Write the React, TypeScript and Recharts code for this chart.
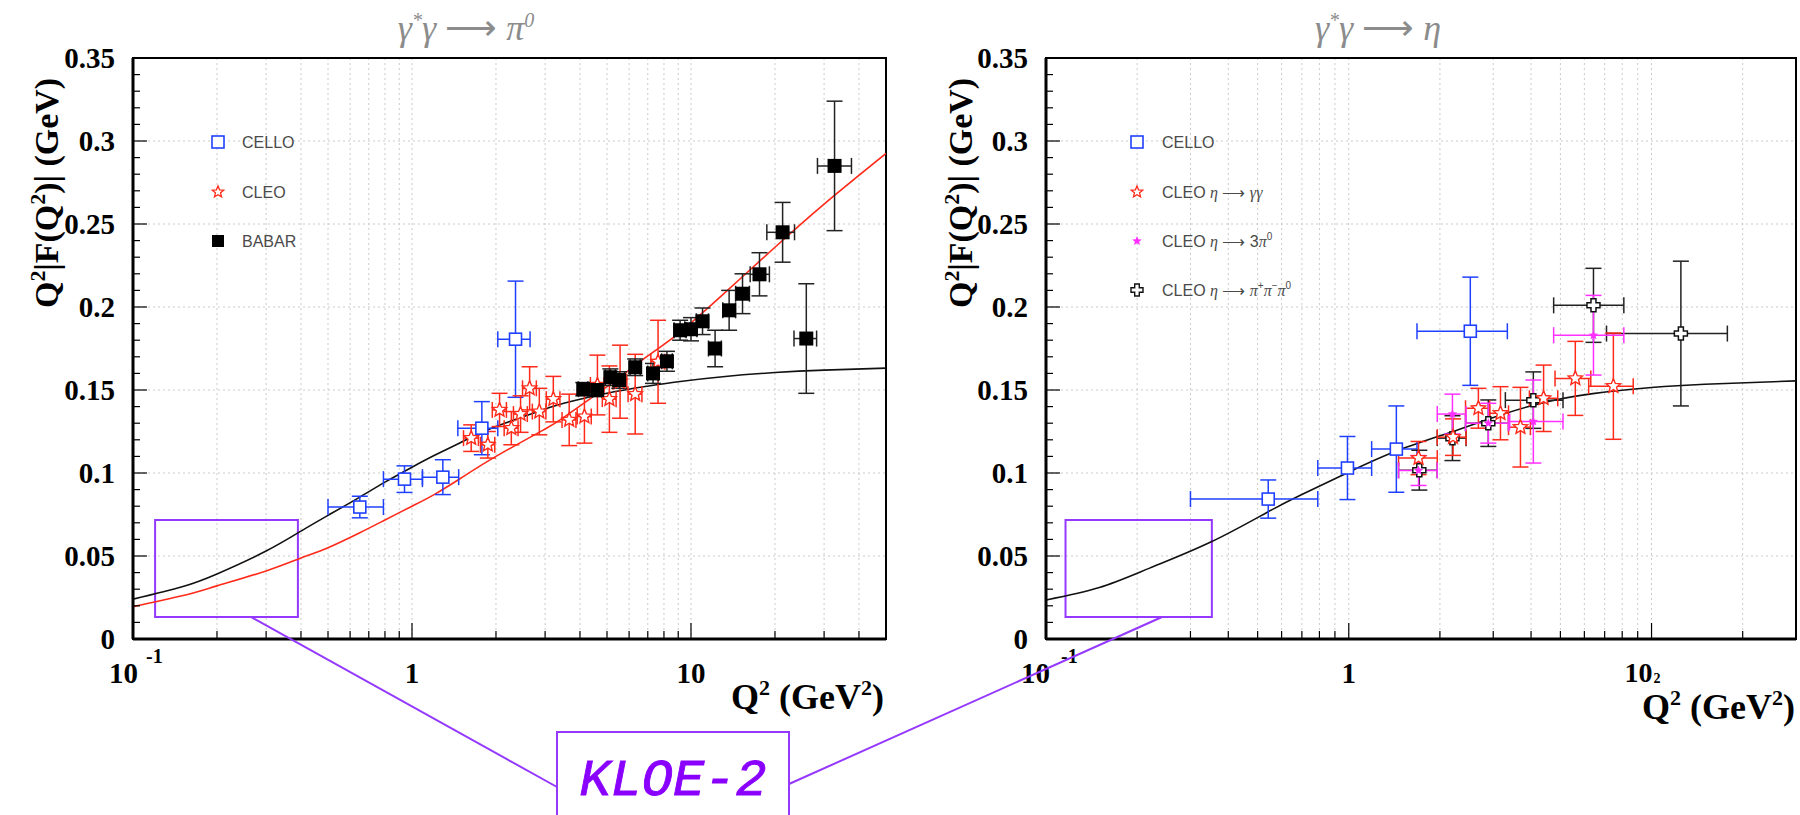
import React from "react";
import {
  ComposedChart,
  Line,
  Scatter,
  ErrorBar,
  XAxis,
  YAxis,
  CartesianGrid,
  ReferenceArea,
} from "recharts";

// ---------- gamma* gamma -> pi0 ----------
const pionCelloQ2 = [0.65, 0.94, 1.29, 1.78, 2.35];
const pionCelloF = [0.0795, 0.0963, 0.0975, 0.127, 0.1806];
const pionCelloErr = [0.0065, 0.008, 0.0105, 0.016, 0.035];
const pionCelloLo = [0.5, 0.79, 1.09, 1.46, 2.03];
const pionCelloHi = [0.79, 1.09, 1.47, 2.03, 2.65];

const pionCleoQ2 = [1.63, 1.87, 2.06, 2.27, 2.45, 2.64, 2.86, 3.21, 3.66, 4.15, 4.62, 5.1, 5.57, 6.31, 7.62];
const pionCleoF = [0.121, 0.117, 0.138, 0.127, 0.1355, 0.151, 0.137, 0.1445, 0.132, 0.134, 0.153, 0.1445, 0.155, 0.1475, 0.167];
const pionCleoErr = [0.008, 0.008, 0.01, 0.01, 0.011, 0.013, 0.014, 0.0137, 0.0155, 0.016, 0.018, 0.02, 0.022, 0.024, 0.025];
const pionCleoLo = [1.53, 1.76, 1.94, 2.14, 2.31, 2.49, 2.7, 3.03, 3.45, 3.91, 4.36, 4.81, 5.25, 5.95, 7.18];
const pionCleoHi = [1.73, 1.98, 2.18, 2.4, 2.59, 2.79, 3.02, 3.39, 3.87, 4.39, 4.88, 5.39, 5.89, 6.67, 8.06];

const babarQ2 = [4.11, 4.61, 5.14, 5.53, 6.31, 7.31, 8.2, 9.14, 10.0, 11.0, 12.2, 13.7, 15.3, 17.6, 21.3, 25.9, 32.7];
const babarF = [0.1505, 0.15, 0.1577, 0.156, 0.1637, 0.16, 0.1673, 0.186, 0.1866, 0.1914, 0.175, 0.198, 0.208, 0.2197, 0.245, 0.181, 0.285];
const babarErr = [0.004, 0.004, 0.005, 0.005, 0.005, 0.006, 0.006, 0.006, 0.007, 0.008, 0.011, 0.012, 0.012, 0.013, 0.018, 0.033, 0.039];
const babarLo = [3.95, 4.43, 4.93, 5.3, 6.05, 7.0, 7.85, 8.7, 9.5, 10.45, 11.55, 13.0, 14.45, 16.3, 18.7, 23.4, 28.4];
const babarHi = [4.27, 4.79, 5.36, 5.77, 6.58, 7.63, 8.57, 9.6, 10.5, 11.55, 12.85, 14.45, 16.2, 19.1, 23.5, 28.2, 37.6];

const pionCurveQ2 = [0.1, 0.15, 0.2, 0.3, 0.4, 0.5, 0.65, 0.8, 1, 1.2, 1.5, 2, 3, 3.5, 5, 7, 9, 13, 20, 30, 50];
const pionBlackCurve = [0.024, 0.0315, 0.0392, 0.053, 0.065, 0.0745, 0.0855, 0.0945, 0.1035, 0.1105, 0.1185, 0.128, 0.1385, 0.142, 0.148, 0.1523, 0.155, 0.158, 0.1605, 0.162, 0.1632];
const pionRedCurve = [0.0195, 0.026, 0.032, 0.041, 0.0488, 0.055, 0.064, 0.0717, 0.08, 0.087, 0.097, 0.11, 0.1265, 0.1335, 0.152, 0.1705, 0.184, 0.2075, 0.236, 0.262, 0.2925];

// ---------- gamma* gamma -> eta ----------
const etaCelloQ2 = [0.542, 0.99, 1.436, 2.52];
const etaCelloF = [0.0843, 0.103, 0.1144, 0.1854];
const etaCelloErr = [0.0115, 0.019, 0.026, 0.0326];
const etaCelloLo = [0.3, 0.79, 1.19, 1.68];
const etaCelloHi = [0.79, 1.19, 1.68, 3.34];

const etaGGQ2 = [1.7, 2.21, 2.68, 3.17, 3.69, 4.4, 5.6, 7.48];
const etaGGF = [0.109, 0.1216, 0.139, 0.136, 0.1276, 0.145, 0.157, 0.1523];
const etaGGErr = [0.01, 0.011, 0.012, 0.016, 0.024, 0.02, 0.0223, 0.032];
const etaGGLo = [1.46, 1.96, 2.43, 2.92, 3.37, 3.95, 4.8, 6.2];
const etaGGHi = [1.96, 2.44, 2.92, 3.37, 3.98, 4.9, 6.3, 8.7];

const eta3PiQ2 = [1.7, 2.2, 2.89, 4.07, 6.43];
const eta3PiF = [0.1015, 0.1355, 0.13, 0.131, 0.183];
const eta3PiErr = [0.009, 0.012, 0.012, 0.025, 0.024];
const eta3PiLo = [1.46, 1.96, 2.43, 3.4, 4.75];
const eta3PiHi = [1.96, 2.44, 3.37, 5.1, 8.1];

const etaPPPQ2 = [1.71, 2.2, 2.89, 4.07, 6.43, 12.5];
const etaPPPF = [0.1017, 0.121, 0.13, 0.1439, 0.201, 0.184];
const etaPPPErr = [0.012, 0.0135, 0.014, 0.017, 0.0223, 0.0436];
const etaPPPLo = [1.46, 1.96, 2.43, 3.29, 4.75, 7.1];
const etaPPPHi = [1.96, 2.44, 3.37, 5.1, 8.1, 17.8];

const etaCurveQ2 = [0.1, 0.15, 0.22, 0.35, 0.54, 0.7, 1.0, 1.45, 2.17, 2.9, 4.2, 6.4, 10, 15, 30];
const etaCurveF = [0.0235, 0.031, 0.0427, 0.0584, 0.0765, 0.087, 0.1005, 0.1135, 0.1245, 0.1325, 0.1415, 0.1478, 0.1515, 0.1535, 0.1555];

// axes
const pionXTicks = [0.1, 0.2, 0.3, 0.4, 0.5, 0.6, 0.7, 0.8, 0.9, 1, 2, 3, 4, 5, 6, 7, 8, 9, 10, 20, 30, 40, 50];
const etaXTicks = [0.1, 0.2, 0.3, 0.4, 0.5, 0.6, 0.7, 0.8, 0.9, 1, 2, 3, 4, 5, 6, 7, 8, 9, 10, 20, 30];
const yMajorTicks = [0, 0.05, 0.1, 0.15, 0.2, 0.25, 0.3, 0.35];
const yAllTicks = Array.from({ length: 36 }, (_, i) => +(i * 0.01).toFixed(2));

// KLOE-2 reach box
const pionKloeQ2 = [0.12, 0.39];
const etaKloeQ2 = [0.116, 0.353];
const kloeF = [0.0133, 0.0717];

const BLUE = "#2040ff";
const RED = "#ff2a1a";
const MAGENTA = "#ff30ff";
const PURPLE = "#9438ff";
const SERIF = "'Liberation Serif', 'Times New Roman', serif";

type Pt = { x: number; y: number; ey: number; ex: [number, number] };

function points(q2: number[], f: number[], err: number[], lo: number[], hi: number[]): Pt[] {
  return q2.map((x, i) => ({ x, y: f[i], ey: err[i], ex: [x - lo[i], hi[i] - x] }));
}

function curve(q2: number[], f: number[]) {
  return q2.map((x, i) => ({ x, y: f[i] }));
}

function starPath(cx: number, cy: number, r: number) {
  let d = "";
  for (let i = 0; i < 10; i++) {
    const rad = i % 2 === 0 ? r : r * 0.45;
    const a = -Math.PI / 2 + (i * Math.PI) / 5;
    d += (i === 0 ? "M" : "L") + (cx + rad * Math.cos(a)).toFixed(2) + "," + (cy + rad * Math.sin(a)).toFixed(2);
  }
  return d + "Z";
}

function crossPath(cx: number, cy: number, r: number, w: number) {
  const p = [
    [-w, -r], [w, -r], [w, -w], [r, -w], [r, w], [w, w],
    [w, r], [-w, r], [-w, w], [-r, w], [-r, -w], [-w, -w],
  ];
  return "M" + p.map(([a, b]) => `${cx + a},${cy + b}`).join("L") + "Z";
}

const openSquare = (color: string) => (p: any) =>
  p.cx == null ? <g /> : <rect x={p.cx - 6} y={p.cy - 6} width={12} height={12} fill="#fff" stroke={color} strokeWidth={1.6} />;
const filledSquare = (p: any) =>
  p.cx == null ? <g /> : <rect x={p.cx - 7} y={p.cy - 7} width={14} height={14} fill="#000" />;
const openStar = (color: string) => (p: any) =>
  p.cx == null ? <g /> : <path d={starPath(p.cx, p.cy, 7.5)} fill="#fff" stroke={color} strokeWidth={1.4} />;
const filledStar = (p: any) =>
  p.cx == null ? <g /> : <path d={starPath(p.cx, p.cy, 5)} fill={MAGENTA} />;
const openCross = (p: any) =>
  p.cx == null ? <g /> : <path d={crossPath(p.cx, p.cy, 6.5, 2.5)} fill="#fff" stroke="#111" strokeWidth={1.5} />;

function XTick(props: any) {
  const { x, y, payload, variant } = props;
  const v: number = payload.value;
  const major = v === 0.1 || v === 1 || v === 10;
  const font = { fontFamily: SERIF, fontWeight: 700, fill: "#000" };
  let label: React.ReactNode = null;
  if (v === 0.1) {
    label = (
      <g>
        <text x={x + (variant === "eta" ? 4 : 5)} y={y + 44} textAnchor="end" fontSize={29} {...font}>10</text>
        <text x={x + (variant === "eta" ? 15 : 13)} y={y + 24} fontSize={20} {...font}>-1</text>
      </g>
    );
  } else if (v === 1) {
    label = <text x={x} y={y + 44} textAnchor="middle" fontSize={29} {...font}>1</text>;
  } else if (v === 10) {
    label =
      variant === "eta" ? (
        <g>
          <text x={x + 1} y={y + 43} textAnchor="end" fontSize={28} {...font}>10</text>
          <text x={x + 2} y={y + 44} fontSize={14} {...font}>2</text>
        </g>
      ) : (
        <text x={x} y={y + 44} textAnchor="middle" fontSize={29} {...font}>10</text>
      );
  }
  return (
    <g>
      <line x1={x} x2={x} y1={y} y2={y - (major ? 16 : 8)} stroke="#000" strokeWidth={1.2} />
      {major && label}
    </g>
  );
}

function YTick(props: any) {
  const { x, y, payload } = props;
  const v: number = payload.value;
  const major = Math.abs(v * 20 - Math.round(v * 20)) < 1e-6;
  return (
    <g>
      <line x1={x} x2={x + (major ? 14 : 7)} y1={y} y2={y} stroke="#000" strokeWidth={1.2} />
      {major && (
        <text x={x - 18} y={y + 10} textAnchor="end" fontSize={29} fontFamily={SERIF} fontWeight={700} fill="#000">
          {Number(v.toFixed(2)).toString()}
        </text>
      )}
    </g>
  );
}

type SeriesDef = {
  name: string;
  data: Pt[];
  color: string;
  shape: any;
};

type PanelProps = {
  left: number;
  plotLeft: number;
  rightMargin: number;
  xMax: number;
  xTicks: number[];
  variant: "pion" | "eta";
  curves: { data: { x: number; y: number }[]; color: string }[];
  series: SeriesDef[];
  kloeQ2: number[];
};

function Panel(p: PanelProps) {
  return (
    <div style={{ position: "absolute", left: p.left, top: 0 }}>
      <ComposedChart width={900} height={815} margin={{ top: 58, right: p.rightMargin, left: 0, bottom: 0 }}>
        <CartesianGrid
          stroke="#cacaca"
          strokeDasharray="2 3"
          horizontalValues={yMajorTicks}
          verticalValues={p.xTicks}
        />
        <XAxis
          dataKey="x"
          type="number"
          scale="log"
          domain={[0.1, p.xMax]}
          allowDataOverflow
          ticks={p.xTicks}
          interval={0}
          height={176}
          tickLine={false}
          tickSize={0}
          tickMargin={0}
          axisLine={{ stroke: "#000", strokeWidth: 3 }}
          tick={(t: any) => <XTick {...t} variant={p.variant} />}
        />
        <YAxis
          type="number"
          domain={[0, 0.35]}
          allowDataOverflow
          ticks={yAllTicks}
          interval={0}
          width={p.plotLeft}
          tickLine={false}
          tickSize={0}
          tickMargin={0}
          axisLine={{ stroke: "#000", strokeWidth: 3 }}
          tick={(t: any) => <YTick {...t} />}
        />
        <ReferenceArea
          x1={0.1}
          x2={p.xMax}
          y1={0}
          y2={0.35}
          fill="none"
          fillOpacity={0}
          stroke="#000"
          strokeWidth={2}
          ifOverflow="visible"
        />
        {p.curves.map((c, i) => (
          <Line
            key={"c" + i}
            data={c.data}
            dataKey="y"
            type="natural"
            stroke={c.color}
            strokeWidth={1.6}
            dot={false}
            isAnimationActive={false}
          />
        ))}
        <ReferenceArea
          x1={p.kloeQ2[0]}
          x2={p.kloeQ2[1]}
          y1={kloeF[0]}
          y2={kloeF[1]}
          fill="none"
          fillOpacity={0}
          stroke={PURPLE}
          strokeWidth={2}
        />
        {p.series.map((s) => (
          <Scatter key={s.name} name={s.name} data={s.data} dataKey="y" shape={s.shape} isAnimationActive={false}>
            <ErrorBar dataKey="ex" direction="x" width={8} stroke={s.color} strokeWidth={1.5} isAnimationActive={false} />
            <ErrorBar dataKey="ey" direction="y" width={8} stroke={s.color} strokeWidth={1.5} isAnimationActive={false} />
          </Scatter>
        ))}
      </ComposedChart>
    </div>
  );
}

function Overlay() {
  const axisFont = { fontFamily: SERIF, fontWeight: 700, fontSize: 36, fill: "#000" };
  const legendFont = { fontFamily: "'Liberation Sans', Arial, sans-serif", fontSize: 16, fill: "#4a4a4a" };
  const titleFont = { fontFamily: SERIF, fontStyle: "italic" as const, fontSize: 36, fill: "#8c8c8c" };
  const greek = { fontFamily: SERIF, fontStyle: "italic" as const };
  return (
    <svg width={1800} height={815} style={{ position: "absolute", left: 0, top: 0, pointerEvents: "none" }}>
      {/* panel titles */}
      <text x={466} y={40} textAnchor="middle" {...titleFont}>
        γ<tspan dy={-13} fontSize={20}>*</tspan>
        <tspan dy={13}>γ </tspan>
        <tspan fontStyle="normal">⟶</tspan>
        <tspan> π</tspan>
        <tspan dy={-13} fontSize={20}>0</tspan>
      </text>
      <text x={1378} y={40} textAnchor="middle" {...titleFont}>
        γ<tspan dy={-13} fontSize={20}>*</tspan>
        <tspan dy={13}>γ </tspan>
        <tspan fontStyle="normal">⟶</tspan>
        <tspan> η</tspan>
      </text>

      {/* y titles */}
      {[58, 972].map((bx) => (
        <text
          key={bx}
          transform={`translate(${bx},193) rotate(-90)`}
          textAnchor="middle"
          {...axisFont}
          fontSize={34}
          textLength={230}
          lengthAdjust="spacingAndGlyphs"
        >
          Q<tspan dy={-13} fontSize={22}>2</tspan>
          <tspan dy={13}>|F(Q</tspan>
          <tspan dy={-13} fontSize={22}>2</tspan>
          <tspan dy={13}>)| (GeV)</tspan>
        </text>
      ))}

      {/* x titles */}
      {[
        [884, 709],
        [1795, 719],
      ].map(([ex, by]) => (
        <text key={ex} x={ex} y={by} textAnchor="end" {...axisFont}>
          Q<tspan dy={-14} fontSize={22}>2</tspan>
          <tspan dy={14}> (GeV</tspan>
          <tspan dy={-14} fontSize={22}>2</tspan>
          <tspan dy={14}>)</tspan>
        </text>
      ))}

      {/* left legend */}
      <rect x={212} y={136} width={12} height={12} fill="#fff" stroke={BLUE} strokeWidth={1.6} />
      <text x={242} y={148} {...legendFont}>CELLO</text>
      <path d={starPath(218, 192, 6)} fill="#fff" stroke={RED} strokeWidth={1.3} />
      <text x={242} y={198} {...legendFont}>CLEO</text>
      <rect x={212} y={235} width={12} height={12} fill="#000" />
      <text x={242} y={247} {...legendFont}>BABAR</text>

      {/* right legend */}
      <rect x={1131} y={136} width={12} height={12} fill="#fff" stroke={BLUE} strokeWidth={1.6} />
      <text x={1162} y={148} {...legendFont}>CELLO</text>
      <path d={starPath(1137, 192, 6)} fill="#fff" stroke={RED} strokeWidth={1.3} />
      <text x={1162} y={198} {...legendFont}>
        CLEO <tspan {...greek}>η</tspan> ⟶ <tspan {...greek}>γγ</tspan>
      </text>
      <path d={starPath(1137, 241, 5)} fill={MAGENTA} />
      <text x={1162} y={247} {...legendFont}>
        CLEO <tspan {...greek}>η</tspan> ⟶ 3<tspan {...greek}>π</tspan>
        <tspan dy={-7} fontSize={10}>0</tspan>
      </text>
      <path d={crossPath(1137, 290, 6, 2.3)} fill="#fff" stroke="#111" strokeWidth={1.4} />
      <text x={1162} y={296} {...legendFont}>
        CLEO <tspan {...greek}>η</tspan> ⟶ <tspan {...greek}>π</tspan>
        <tspan dy={-7} fontSize={10}>+</tspan>
        <tspan dy={7} {...greek}>π</tspan>
        <tspan dy={-7} fontSize={10}>−</tspan>
        <tspan dy={7} {...greek}>π</tspan>
        <tspan dy={-7} fontSize={10}>0</tspan>
      </text>

      {/* KLOE-2 callout */}
      <line x1={251} y1={617} x2={557} y2={787} stroke={PURPLE} strokeWidth={2} />
      <line x1={1162} y1={617} x2={789} y2={784} stroke={PURPLE} strokeWidth={2} />
      <rect x={557} y={732} width={232} height={120} fill="#fff" stroke={PURPLE} strokeWidth={2} />
      <text
        x={673}
        y={795}
        textAnchor="middle"
        fontFamily="'Liberation Mono', 'Courier New', monospace"
        fontStyle="italic"
        fontSize={52}
        fill="#8a00ff"
        stroke="#8a00ff"
        strokeWidth={0.9}
      >
        KLOE-2
      </text>
    </svg>
  );
}

export default function App() {
  const pionSeries: SeriesDef[] = [
    { name: "CELLO", data: points(pionCelloQ2, pionCelloF, pionCelloErr, pionCelloLo, pionCelloHi), color: BLUE, shape: openSquare(BLUE) },
    { name: "CLEO", data: points(pionCleoQ2, pionCleoF, pionCleoErr, pionCleoLo, pionCleoHi), color: RED, shape: openStar(RED) },
    { name: "BABAR", data: points(babarQ2, babarF, babarErr, babarLo, babarHi), color: "#222", shape: filledSquare },
  ];
  const etaSeries: SeriesDef[] = [
    { name: "CELLO", data: points(etaCelloQ2, etaCelloF, etaCelloErr, etaCelloLo, etaCelloHi), color: BLUE, shape: openSquare(BLUE) },
    { name: "CLEO pi+pi-pi0", data: points(etaPPPQ2, etaPPPF, etaPPPErr, etaPPPLo, etaPPPHi), color: "#222", shape: openCross },
    { name: "CLEO gg", data: points(etaGGQ2, etaGGF, etaGGErr, etaGGLo, etaGGHi), color: RED, shape: openStar(RED) },
    { name: "CLEO 3pi0", data: points(eta3PiQ2, eta3PiF, eta3PiErr, eta3PiLo, eta3PiHi), color: MAGENTA, shape: filledStar },
  ];
  return (
    <div style={{ position: "absolute", left: 0, top: 0, width: 1800, height: 815, background: "#fff", overflow: "hidden" }}>
      <Panel
        left={0}
        plotLeft={133}
        rightMargin={14}
        xMax={50}
        xTicks={pionXTicks}
        variant="pion"
        curves={[
          { data: curve(pionCurveQ2, pionBlackCurve), color: "#111" },
          { data: curve(pionCurveQ2, pionRedCurve), color: RED },
        ]}
        series={pionSeries}
        kloeQ2={pionKloeQ2}
      />
      <Panel
        left={900}
        plotLeft={146}
        rightMargin={4}
        xMax={30}
        xTicks={etaXTicks}
        variant="eta"
        curves={[{ data: curve(etaCurveQ2, etaCurveF), color: "#111" }]}
        series={etaSeries}
        kloeQ2={etaKloeQ2}
      />
      <Overlay />
    </div>
  );
}
